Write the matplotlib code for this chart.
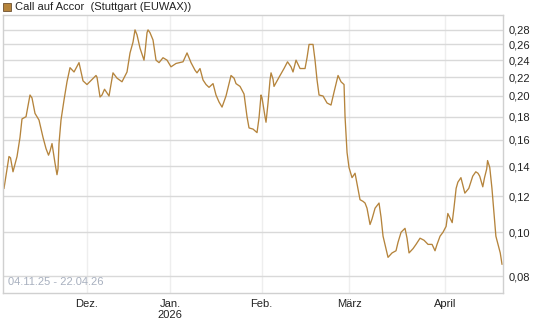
import matplotlib
matplotlib.use("Agg")
import matplotlib.pyplot as plt
import matplotlib.patches as mpatches
import pandas as pd

plt.rcParams["font.family"] = ["Liberation Sans", "DejaVu Sans"]

# trading-day index (0 = 04.11.25) and price in EUR
t = [0, 1.14, 1.49, 2.06, 2.98, 3.66, 4.12, 5.04, 5.95, 6.41, 7.10, 8.01, 8.93,
     9.62, 10.19, 10.53, 10.99, 11.68, 12.13, 12.36, 12.59, 13.05, 13.74, 14.42,
     15.11, 16.03, 17.17, 18.09, 19.00, 21.06, 21.29, 21.98, 22.44, 23.01, 24.04,
     24.95, 25.87, 27.01, 28.16, 28.85, 29.53, 29.99, 30.45, 31.14, 32.05, 32.28,
     32.74, 32.97, 33.42, 34.11, 34.80, 35.49, 36.40, 37.32, 38.23, 39.38, 40.98,
     41.90, 42.81, 43.73, 44.18, 44.87, 45.56, 46.25, 46.93, 47.85, 48.53, 49.22,
     49.91, 50.82, 51.97, 52.66, 53.11, 54.03, 54.95, 55.63, 56.09, 57.01, 57.92,
     58.38, 58.84, 59.07, 59.75, 59.98, 60.44, 60.90, 61.13, 61.58, 61.81, 62.96,
     64.10, 64.90, 65.70, 66.16, 66.85, 67.77, 68.91, 69.37, 69.83, 70.74, 71.20,
     71.66, 72.12, 73.03, 73.95, 74.86, 75.55, 76.47, 77.15, 77.84, 78.07, 78.53,
     78.98, 79.67, 80.36, 80.82, 81.50, 82.19, 82.65, 83.10, 83.79, 84.25, 84.94,
     85.85, 86.31, 86.77, 87.45, 87.91, 88.83, 89.74, 90.20, 90.90, 91.80, 92.26,
     92.72, 93.64, 94.32, 95.24, 96.15, 97.07, 97.99, 98.67, 99.13, 99.82, 100.5,
     101.2, 101.6, 102.6, 103.0, 103.5, 103.9, 104.6, 105.5, 106.4, 107.3, 108.0,
     108.5, 108.9, 109.6, 110.0, 110.5, 110.7, 111.2, 111.7, 112.1, 112.6, 113.1,
     113.6, 114.0]
price = [0.125, 0.147, 0.146, 0.136, 0.147, 0.162, 0.178, 0.180, 0.201, 0.198,
         0.183, 0.177, 0.162, 0.153, 0.148, 0.151, 0.157, 0.142, 0.134, 0.138,
         0.157, 0.177, 0.196, 0.215, 0.231, 0.226, 0.237, 0.216, 0.212, 0.222,
         0.220, 0.199, 0.201, 0.207, 0.200, 0.225, 0.219, 0.215, 0.226, 0.249,
         0.263, 0.280, 0.273, 0.255, 0.240, 0.250, 0.276, 0.280, 0.276, 0.266,
         0.240, 0.237, 0.243, 0.240, 0.232, 0.236, 0.238, 0.249, 0.237, 0.228,
         0.225, 0.230, 0.217, 0.212, 0.209, 0.213, 0.201, 0.194, 0.189, 0.200,
         0.222, 0.219, 0.213, 0.210, 0.202, 0.180, 0.170, 0.169, 0.166, 0.179,
         0.201, 0.198, 0.180, 0.175, 0.193, 0.217, 0.225, 0.218, 0.210, 0.220,
         0.230, 0.238, 0.232, 0.226, 0.240, 0.230, 0.230, 0.243, 0.260, 0.260,
         0.240, 0.217, 0.201, 0.200, 0.193, 0.191, 0.204, 0.222, 0.215, 0.212,
         0.180, 0.150, 0.139, 0.132, 0.135, 0.128, 0.118, 0.117, 0.116, 0.113,
         0.104, 0.107, 0.113, 0.116, 0.108, 0.098, 0.092, 0.088, 0.090, 0.091,
         0.095, 0.100, 0.102, 0.097, 0.090, 0.092, 0.094, 0.097, 0.096, 0.094,
         0.094, 0.091, 0.094, 0.098, 0.100, 0.103, 0.110, 0.105, 0.113, 0.125,
         0.129, 0.132, 0.122, 0.125, 0.133, 0.136, 0.135, 0.133, 0.126, 0.132,
         0.138, 0.144, 0.139, 0.125, 0.112, 0.098, 0.094, 0.090, 0.085]

y_ticks = [0.08, 0.10, 0.12, 0.14, 0.16, 0.18, 0.20, 0.22, 0.24, 0.26, 0.28]
month_labels = ["Dez.", "Jan.\n2026", "Feb.", "März", "April"]
month_starts = ["2025-12-01", "2026-01-02", "2026-02-02", "2026-03-02", "2026-04-01"]
holidays = ["2025-12-24", "2025-12-25", "2025-12-26", "2025-12-31", "2026-01-01",
            "2026-04-03", "2026-04-06"]

days = pd.bdate_range("2025-11-04", "2026-04-22")
days = days[~days.isin(pd.to_datetime(holidays))]
month_idx = [days.get_loc(pd.Timestamp(d)) for d in month_starts]

LINE = "#b5843c"
fig = plt.figure(figsize=(5.45, 3.27), dpi=100)
ax = fig.add_axes([3/545, 34/327, 500/545, 278/327])

ax.plot(t, price, color=LINE, lw=0.95)
ax.set_yscale("log")
ax.set_ylim(0.0734, 0.302)
ax.set_xlim(-0.23, len(days) - 1 + 0.23)

ax.set_yticks(y_ticks)
ax.set_yticklabels([f"{v:.2f}".replace(".", ",") for v in y_ticks])
ax.yaxis.set_minor_locator(matplotlib.ticker.NullLocator())
ax.yaxis.tick_right()
ax.set_xticks(month_idx)
ax.set_xticklabels(month_labels)
ax.tick_params(axis="both", length=0, labelsize=8, colors="#222222")
ax.tick_params(axis="y", pad=4)
ax.tick_params(axis="x", pad=4)

ax.grid(axis="y", color="#d9d9d9", lw=1)
ax.grid(axis="x", color="#eeeeee", lw=1)
ax.set_axisbelow(True)
for sp in ax.spines.values():
    sp.set_edgecolor("#d0d0d0")
    sp.set_linewidth(1)

ax.text(0.01, 0.02, "04.11.25 - 22.04.26", transform=ax.transAxes,
        fontsize=8, color="#a8b0bf", ha="left", va="bottom")

fig.patches.append(mpatches.Rectangle((3/545, 1 - 11/327), 8/545, 8/327,
                                      transform=fig.transFigure, facecolor=LINE,
                                      edgecolor="#6d5030", lw=0.6))
fig.text(15/545, 1 - 7/327, "Call auf Accor  (Stuttgart (EUWAX))",
         fontsize=8, color="#222222", ha="left", va="center")

fig.savefig("out.png", dpi=100)
